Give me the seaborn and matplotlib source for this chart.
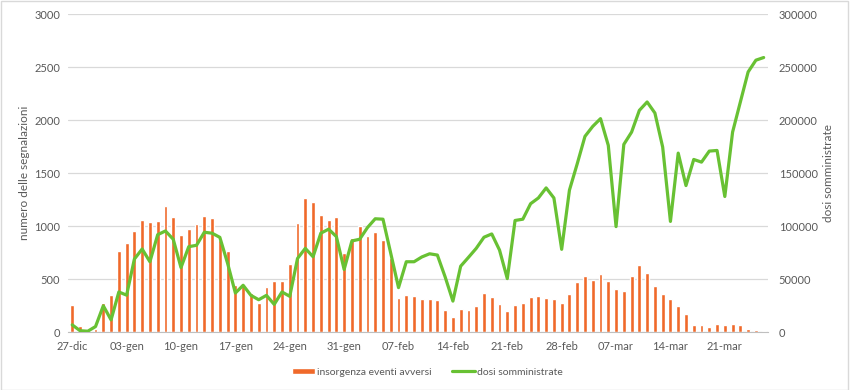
import matplotlib
matplotlib.use('Agg')
import matplotlib.pyplot as plt
import numpy as np
import pandas as pd
import seaborn as sns

# ===== Dati =====
giorni = pd.date_range('2020-12-27', periods=90)

eventi_avversi = [260, 62, 10, 30, 280, 347, 766, 839, 956, 1054,
                  1038, 1051, 1193, 1085, 918, 972, 1022, 1098, 1073, 870,
                  769, 443, 452, 373, 272, 427, 484, 484, 642, 1028,
                  1266, 1228, 1101, 1060, 1085, 744, 886, 1006, 908, 946,
                  870, 696, 326, 348, 345, 310, 313, 301, 206, 142,
                  218, 206, 244, 373, 335, 266, 199, 259, 272, 329,
                  345, 320, 313, 278, 364, 478, 532, 491, 547, 484,
                  405, 389, 528, 636, 557, 434, 358, 313, 250, 168,
                  73, 66, 54, 79, 73, 79, 66, 32, 19, 13]

dosi = [7000, 1500, 1000, 5400, 25000, 11700, 38000, 35000, 69000, 78500,
        66500, 92000, 95500, 87700, 61000, 80700, 82000, 94300, 93400, 89500,
        65000, 37000, 44300, 34800, 30700, 34800, 26300, 38000, 33900, 69600,
        79100, 71200, 93400, 97200, 90200, 59200, 86100, 87700, 98700, 107000,
        106600, 74400, 42100, 66500, 66500, 71000, 74000, 72800, 52200, 29400,
        62300, 70600, 79100, 89600, 92700, 77500, 50600, 105400, 106600, 121200,
        126600, 136100, 126600, 78200, 134000, 158800, 184700, 194100, 201400, 176200,
        99600, 177100, 188700, 209200, 217100, 206700, 174600, 104500, 168900, 138300,
        162900, 160400, 170800, 171400, 128000, 188700, 217100, 245400, 256500, 259000]

mesi = {12: 'dic', 1: 'gen', 2: 'feb', 3: 'mar'}
etichette = [f"{d.day:02d}-{mesi[d.month]}" for d in giorni]

df = pd.DataFrame({'giorno': etichette, 'eventi': eventi_avversi, 'dosi': dosi})
df['pos'] = np.arange(len(df))

# ===== Stile =====
sns.set_style('white')
plt.rcParams['font.family'] = ['Lato', 'DejaVu Sans']
grigio = '#595959'
arancio = '#f0692a'
verde = '#68c133'

fig = plt.figure(figsize=(8.5, 3.9), dpi=100)
fig.patches.append(plt.Rectangle((0.001, 0.001), 0.997, 0.997, transform=fig.transFigure,
                                 fill=False, edgecolor='#d9d9d9', linewidth=1))
ax = fig.add_axes([0.0804, 0.148, 0.8226, 0.816])

sns.barplot(data=df, x='giorno', y='eventi', order=etichette, color=arancio,
            width=0.5, saturation=1, ax=ax, label='insorgenza eventi avversi', zorder=2)
ax.set_xlim(-0.5, len(df) - 0.5)
ax.set_ylim(0, 3000)
ax.set_yticks(np.arange(0, 3001, 500))
ax.yaxis.grid(True, color='#d9d9d9', linewidth=0.9, zorder=0)
ax.set_axisbelow(True)

# tacche ai confini delle settimane, etichette al centro della categoria
ax.set_xticks(np.arange(-0.5, len(df), 7))
ax.set_xticklabels([])
ax.set_xticks(np.arange(0, len(df), 7), minor=True)
ax.set_xticklabels(etichette[::7], minor=True)
ax.tick_params(axis='x', which='major', length=4, color='#bfbfbf', width=0.8)
ax.tick_params(axis='x', which='minor', length=0, pad=6, labelsize=8, labelcolor=grigio)
ax.tick_params(axis='y', length=0, labelsize=8, labelcolor=grigio, pad=6)
ax.set_xlabel('')
ax.set_ylabel('numero delle segnalazioni', fontsize=8.5, color=grigio, labelpad=3)
for s in ['left', 'right', 'top']:
    ax.spines[s].set_visible(False)
ax.spines['bottom'].set_color('#bfbfbf')
ax.spines['bottom'].set_linewidth(0.8)

ax2 = ax.twinx()
sns.lineplot(data=df, x='pos', y='dosi', color=verde, linewidth=2.3, ax=ax2,
             label='dosi somministrate', legend=False)
ax2.set_ylim(0, 300000)
ax2.set_yticks(np.arange(0, 300001, 50000))
ax2.tick_params(axis='y', length=0, labelsize=8, labelcolor=grigio, pad=8)
ax2.set_ylabel('dosi somministrate', fontsize=8.5, color=grigio, labelpad=4)
ax2.set_xlabel('')
for s in ax2.spines.values():
    s.set_visible(False)
ax2.set_xlim(-0.5, len(df) - 0.5)

h1, l1 = ax.get_legend_handles_labels()
h2, l2 = ax2.get_legend_handles_labels()
if ax.get_legend() is not None:
    ax.get_legend().remove()
fig.legend(h1 + h2, l1 + l2, loc='center', bbox_to_anchor=(0.503, 0.046), ncol=2,
           frameon=False, fontsize=7.5, labelcolor=grigio, handlelength=2.2,
           handleheight=0.5, columnspacing=1.9, handletextpad=0.2)

fig.savefig('out.png', dpi=100)
